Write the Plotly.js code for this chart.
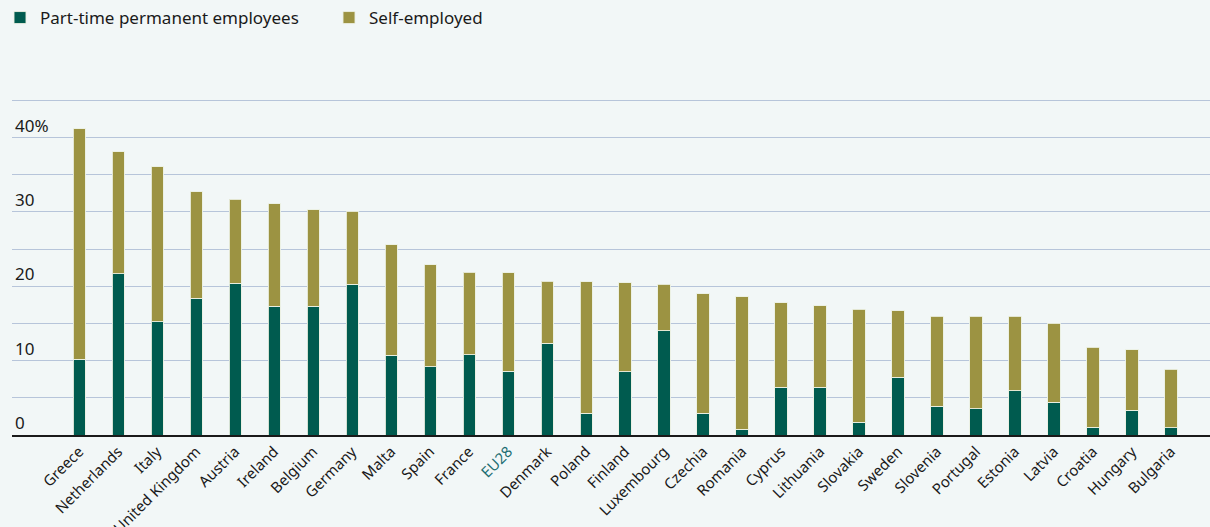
<!DOCTYPE html>
<html>
<head>
<meta charset="utf-8">
<script src="https://cdn.plot.ly/plotly-3.0.1.min.js"></script>
<style>
html,body{margin:0;padding:0;background:#f2f7f7;}
#chart{width:1210px;height:527px;}
</style>
</head>
<body>
<div id="chart"></div>
<script>
const countries = ["Greece","Netherlands","Italy","United Kingdom","Austria","Ireland","Belgium","Germany","Malta","Spain","France","EU28","Denmark","Poland","Finland","Luxembourg","Czechia","Romania","Cyprus","Lithuania","Slovakia","Sweden","Slovenia","Portugal","Estonia","Latvia","Croatia","Hungary","Bulgaria"];
const partTime = [10.2,21.7,15.2,18.4,20.4,17.3,17.3,20.3,10.7,9.2,10.8,8.6,12.35,2.9,8.5,14.05,2.95,0.8,6.4,6.45,1.7,7.75,3.85,3.5,5.95,4.4,1.05,3.35,0.95];
const total = [41.2,38.1,36.1,32.75,31.7,31.1,30.3,30.1,25.6,22.9,21.9,21.8,20.7,20.6,20.5,20.3,19.0,18.6,17.8,17.4,16.9,16.7,16.0,16.0,16.0,15.0,11.8,11.45,8.85];
const selfEmployed = total.map((t,i)=>+(t-partTime[i]).toFixed(2));
const yTickVals = [0,5,10,15,20,25,30,35,40,45];
const yTickText = ["0","","10","","20","","30","","40%",""];
const tickLabels = countries.map(c => c === "EU28" ? '<span style="color:#1d6e72">EU28</span>' : c);

const font = "Noto Sans, Open Sans, sans-serif";
const traces = [
  {type:"bar", name:"Part-time permanent employees", x:countries, y:partTime,
   marker:{color:"#005b4f", line:{color:"rgba(235,240,225,0.9)", width:1}}, width:0.31},
  {type:"bar", name:"Self-employed", x:countries, y:selfEmployed,
   marker:{color:"#9c9342", line:{color:"rgba(235,240,225,0.9)", width:1}}, width:0.31}
];
const layout = {
  width:1210, height:527,
  barmode:"stack",
  paper_bgcolor:"#f2f7f7", plot_bgcolor:"#f2f7f7",
  margin:{l:12, r:0, t:93, b:92},
  font:{family:font, size:16, color:"#1a1a1a"},
  showlegend:true,
  legend:{orientation:"h", xref:"container", yref:"container", x:0, y:1.0, xanchor:"left", yanchor:"top",
          font:{size:17, color:"#1a1a1a"}, bgcolor:"rgba(0,0,0,0)", entrywidth:284, entrywidthmode:"pixels",
          traceorder:"normal"},
  xaxis:{type:"category", tickmode:"array", tickvals:countries, ticktext:tickLabels, tickangle:-45,
         tickfont:{size:15, color:"#1a1a1a"}, range:[-1.72, 29.0], showgrid:false, ticks:"",
         showline:true, linecolor:"#1a1a1a", linewidth:2, zeroline:false, fixedrange:true},
  yaxis:{range:[0,46], tickmode:"array", tickvals:yTickVals, ticktext:yTickText,
         ticklabelposition:"inside top", tickfont:{size:17, color:"#1a1a1a"},
         showgrid:true, gridcolor:"#b7c5da", gridwidth:1,
         zeroline:false, showline:false, ticks:"", fixedrange:true}
};
Plotly.newPlot("chart", traces, layout, {displayModeBar:false, staticPlot:true});
</script>
</body>
</html>
